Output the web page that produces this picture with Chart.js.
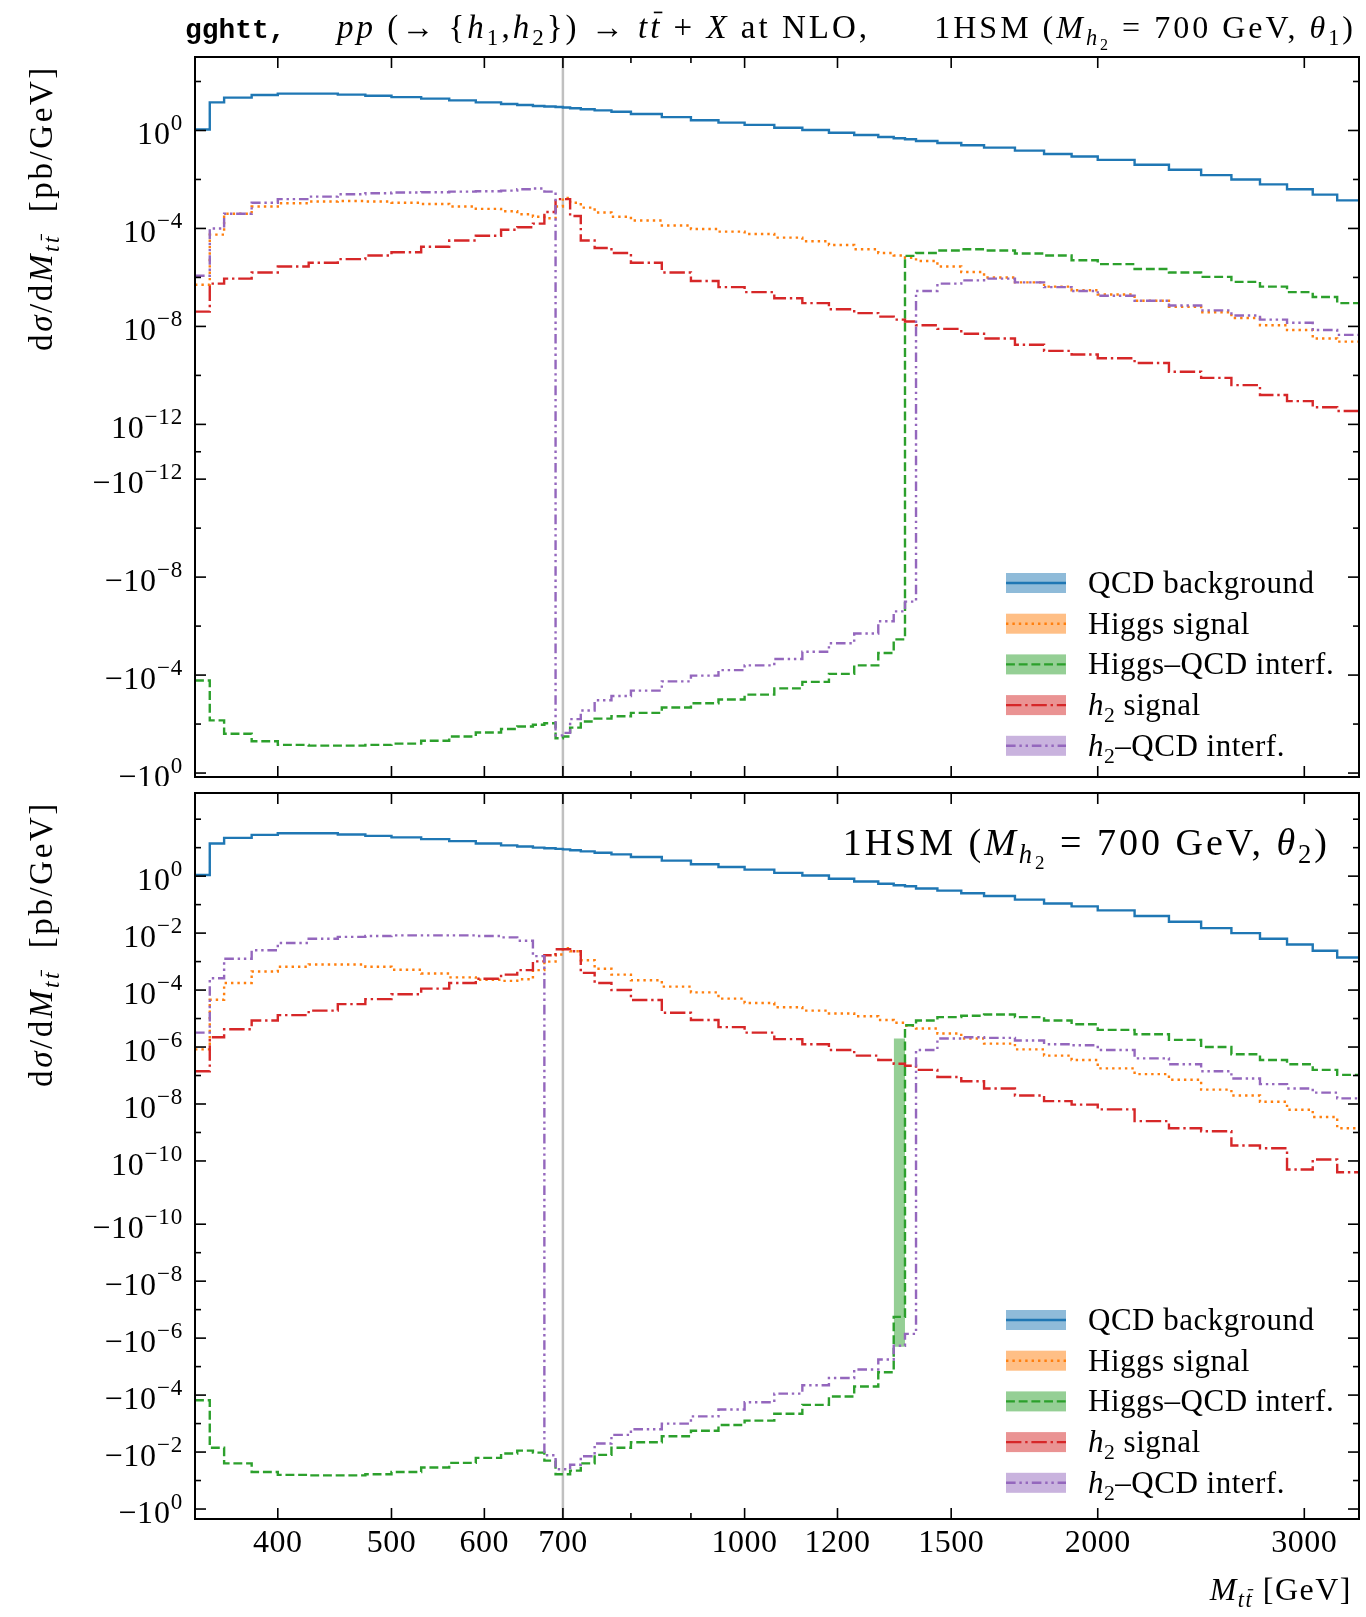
<!DOCTYPE html>
<html>
<head>
<meta charset="utf-8">
<script src="https://cdn.jsdelivr.net/npm/chart.js@4.4.0/dist/chart.umd.min.js"></script>
<style>
  html, body { margin: 0; padding: 0; background: #fff; }
  canvas { display: block; }
</style>
</head>
<body>
<canvas id="topPanel" width="1366" height="786"></canvas>
<canvas id="bottomPanel" width="1366" height="831"></canvas>
<script>
// bin edges of M_tt [GeV]
const binEdges = [340, 350, 360, 380, 400, 425, 450, 475, 500, 530, 560, 590, 620, 640, 660, 675, 690, 700, 710, 725,
  745, 770, 800, 850, 900, 950, 1000, 1060, 1120, 1180, 1240, 1300, 1340, 1370, 1400, 1460, 1530, 1600, 1700, 1800,
  1900, 2000, 2150, 2300, 2450, 2600, 2750, 2900, 3050, 3200, 3340];

// QCD background (same in both panels) [pb/GeV]
const qcdBackground = [1.1, 14, 22, 28, 32, 32, 29, 26, 23, 20,
  17, 14, 12, 11, 10, 9.5, 9.1, 8.7, 8.1, 7.4,
  6.6, 5.8, 4.7, 3.5, 2.6, 2.1, 1.7, 1.3, 1.05, 0.81,
  0.65, 0.54, 0.48, 0.44, 0.37, 0.31, 0.25, 0.2, 0.15, 0.11,
  0.087, 0.063, 0.04, 0.025, 0.015, 0.01, 0.0063, 0.004, 0.0024, 0.0014];

// top panel, theta_1
const higgsSignal1 = [5.0e-7, 5.6e-5, 4.0e-4, 7.9e-4, 1.07e-3, 1.26e-3, 1.32e-3, 1.26e-3, 1.12e-3, 1.0e-3,
  7.9e-4, 6.3e-4, 5.0e-4, 3.8e-4, 3.0e-4, 2.6e-4, 7.9e-4, 1.74e-3, 1.12e-3, 7.1e-4,
  4.5e-4, 3.0e-4, 2.1e-4, 1.32e-4, 9.5e-5, 7.4e-5, 5.9e-5, 4.2e-5, 3.0e-5, 2.1e-5,
  1.41e-5, 1.0e-5, 7.9e-6, 6.3e-6, 4.7e-6, 2.8e-6, 1.66e-6, 1.0e-6, 6.3e-7, 4.2e-7,
  3.0e-7, 2.0e-7, 1.12e-7, 6.3e-8, 3.8e-8, 2.2e-8, 1.12e-8, 7.1e-9, 3.2e-9, 2.4e-9];
const higgsInterf1 = [-1.66e-4, -7.1e-3, -0.025, -0.05, -0.071, -0.076, -0.076, -0.071, -0.063, -0.048,
  -0.032, -0.022, -0.016, -0.0126, -0.0107, -0.0093, -0.038, -0.032, -0.014, -7.9e-3,
  -6.0e-3, -4.8e-3, -3.5e-3, -2.1e-3, -1.41e-3, -1.0e-3, -6.3e-4, -3.5e-4, -1.9e-4, -8.9e-5,
  -4.0e-5, -1.26e-5, -3.5e-6, 7.6e-6, 1.0e-5, 1.26e-5, 1.41e-5, 1.26e-5, 9.5e-6, 7.9e-6,
  5.0e-6, 3.5e-6, 2.2e-6, 1.58e-6, 1.05e-6, 6.6e-7, 4.2e-7, 2.5e-7, 1.58e-7, 8.9e-8];
const h2Signal1 = [4.0e-8, 5.6e-7, 8.9e-7, 1.6e-6, 2.8e-6, 4.0e-6, 5.6e-6, 7.9e-6, 1.07e-5, 1.78e-5,
  3.2e-5, 5.0e-5, 8.9e-5, 1.12e-4, 1.58e-4, 4.7e-4, 1.58e-3, 1.58e-3, 3.2e-4, 3.2e-5,
  1.6e-5, 1.0e-5, 4.0e-6, 1.6e-6, 7.1e-7, 4.0e-7, 2.5e-7, 1.41e-7, 8.9e-8, 5.0e-8,
  3.5e-8, 2.5e-8, 1.9e-8, 1.58e-8, 1.12e-8, 7.9e-9, 5.0e-9, 3.2e-9, 1.78e-9, 1.0e-9,
  7.1e-10, 5.0e-10, 3.2e-10, 1.41e-10, 7.9e-11, 4.0e-11, 1.58e-11, 8.9e-12, 5.0e-12, 3.5e-12];
const h2Interf1 = [1.17e-6, 1.0e-4, 4.0e-4, 1.12e-3, 1.58e-3, 2.0e-3, 2.5e-3, 2.75e-3, 2.95e-3, 3.0e-3,
  3.2e-3, 3.3e-3, 3.5e-3, 4.0e-3, 4.3e-3, 3.2e-3, -0.029, -0.023, -6.3e-3, -2.8e-3,
  -1.07e-3, -7.1e-4, -4.3e-4, -1.8e-4, -1.05e-4, -6.3e-5, -4.0e-5, -2.2e-5, -1.12e-5, -5.0e-6,
  -2.0e-6, -6.3e-7, -2.5e-7, -1.0e-7, 2.8e-7, 5.6e-7, 7.6e-7, 8.9e-7, 6.3e-7, 4.0e-7,
  2.8e-7, 1.78e-7, 1.12e-7, 7.1e-8, 4.5e-8, 2.8e-8, 1.9e-8, 1.41e-8, 7.1e-9, 4.5e-9];

// bottom panel, theta_2
const higgsSignal2 = [8.3e-7, 4.6e-5, 1.78e-4, 4.5e-4, 6.6e-4, 7.9e-4, 7.9e-4, 6.6e-4, 5.2e-4, 3.8e-4,
  2.8e-4, 2.3e-4, 2.1e-4, 2.4e-4, 5.0e-4, 1.0e-3, 1.78e-3, 2.95e-3, 2.3e-3, 1.12e-3,
  5.6e-4, 3.5e-4, 2.2e-4, 1.32e-4, 8.3e-5, 5.0e-5, 3.5e-5, 2.5e-5, 1.9e-5, 1.51e-5,
  1.2e-5, 8.9e-6, 7.1e-6, 5.6e-6, 4.5e-6, 3.0e-6, 2.0e-6, 1.32e-6, 8.3e-7, 5.0e-7,
  3.5e-7, 1.78e-7, 1.12e-7, 7.1e-8, 3.2e-8, 2.0e-8, 1.2e-8, 6.3e-9, 3.5e-9, 1.41e-9];
const higgsInterf2 = [-1.51e-4, -7.1e-3, -0.025, -0.05, -0.063, -0.066, -0.066, -0.06, -0.05, -0.035,
  -0.024, -0.016, -0.0112, -8.9e-3, -0.0105, -0.02, -0.06, -0.06, -0.045, -0.025,
  -0.0126, -7.1e-3, -4.5e-3, -2.8e-3, -1.78e-3, -1.12e-3, -7.9e-4, -4.5e-4, -2.2e-4, -1.12e-4,
  -5.0e-5, -1.58e-5, -1.8e-7, 5.8e-6, 8.5e-6, 1.12e-5, 1.26e-5, 1.38e-5, 1.12e-5, 8.5e-6,
  6.3e-6, 4.0e-6, 2.8e-6, 1.78e-6, 1.0e-6, 5.6e-7, 3.5e-7, 2.5e-7, 1.58e-7, 1.05e-7];
const h2Signal2 = [1.41e-7, 2.2e-6, 4.2e-6, 8.5e-6, 1.32e-5, 1.9e-5, 3.2e-5, 4.8e-5, 7.1e-5, 1.12e-4,
  1.78e-4, 2.5e-4, 3.5e-4, 5.0e-4, 1.02e-3, 1.66e-3, 2.7e-3, 2.7e-3, 2.3e-3, 4.0e-4,
  1.78e-4, 1.0e-4, 4.5e-5, 1.6e-5, 8.9e-6, 5.0e-6, 3.2e-6, 1.9e-6, 1.26e-6, 7.9e-7,
  5.0e-7, 3.5e-7, 2.6e-7, 2.2e-7, 1.58e-7, 8.9e-8, 6.3e-8, 3.5e-8, 2.0e-8, 1.26e-8,
  9.5e-9, 6.5e-9, 2.5e-9, 1.41e-9, 1.1e-9, 3.5e-10, 2.8e-10, 5.0e-11, 1.12e-10, 4.0e-11];
const h2Interf2 = [3.2e-6, 2.6e-4, 1.26e-3, 2.5e-3, 4.5e-3, 6.3e-3, 7.4e-3, 7.9e-3, 8.3e-3, 8.3e-3,
  8.3e-3, 7.9e-3, 7.1e-3, 5.4e-3, 1.55e-3, -0.013, -0.04, -0.04, -0.028, -0.014,
  -5.0e-3, -2.5e-3, -1.58e-3, -1.0e-3, -5.6e-4, -3.2e-4, -1.78e-4, -8.9e-5, -4.5e-5, -2.5e-5,
  -1.26e-5, -5.6e-6, -1.86e-6, -7.1e-7, 7.9e-7, 2.0e-6, 2.2e-6, 2.1e-6, 1.7e-6, 1.26e-6,
  1.15e-6, 7.9e-7, 4.0e-7, 2.5e-7, 1.41e-7, 7.9e-8, 5.0e-8, 3.5e-8, 2.5e-8, 1.58e-8];

// uncertainty band of the Higgs-QCD interference in the bin where it changes sign (bottom panel)
const bandEdges2 = [1340, 1370];
const higgsInterfBand2 = [-2e-6, 2e-6];

// axis ticks
const xMajorTicks = [400, 500, 600, 700, 1000, 1200, 1500, 2000, 3000];
const xMinorTicks = [800, 900];
const yMajor1 = [1, 1e-4, 1e-8, 1e-12, -1e-12, -1e-8, -1e-4, -1];
const yMinor1 = [100, 1e-2, 1e-6, 1e-10, 0, -1e-10, -1e-6, -1e-2];
const yMajor2 = [1, 1e-2, 1e-4, 1e-6, 1e-8, 1e-10, -1e-10, -1e-8, -1e-6, -1e-4, -1e-2, -1];
const yMinor2 = [100, 10, 1e-1, 1e-3, 1e-5, 1e-7, 1e-9, -1e-9, -1e-7, -1e-5, -1e-3, -1e-1];

const COLORS = { blue: '#1f77b4', orange: '#ff7f0e', green: '#2ca02c', red: '#d62728', purple: '#9467bd' };
const BANDS = { blue: 'rgba(31,119,180,0.5)', orange: 'rgba(255,127,14,0.5)', green: 'rgba(44,160,44,0.5)',
  red: 'rgba(214,39,40,0.5)', purple: 'rgba(148,103,189,0.5)' };
const LW = 2.4;
const DASH = {
  solid: [],
  dotted: [2.4, 4],
  dashed: [8.9, 3.8],
  dashdot: [15.4, 3.8, 2.4, 3.8],
  dashdotdot: [9.6, 3.8, 2.4, 3.8, 2.4, 3.8]
};
const FS = 31;
const SERIF = '"Liberation Serif", "Times New Roman", serif';

// symmetric log scale (log for |v| > linthresh, linear inside)
class SymLogScale extends Chart.LinearScale {
  determineDataLimits() {
    this.min = this.options.min;
    this.max = this.options.max;
  }
  buildTicks() {
    return this.options.tickValues.map(v => ({ value: v }));
  }
  transform(v) {
    const c = this.options.linthresh, s = this.options.linscale, a = Math.abs(v);
    const t = a <= c ? s * a / c : s + Math.log10(a / c);
    return v < 0 ? -t : t;
  }
  getPixelForValue(v) {
    const t0 = this.transform(this.min), t1 = this.transform(this.max);
    return this.getPixelForDecimal((this.transform(v) - t0) / (t1 - t0));
  }
  getValueForPixel(p) {
    const t0 = this.transform(this.min), t1 = this.transform(this.max);
    const t = t0 + this.getDecimalForPixel(p) * (t1 - t0);
    const c = this.options.linthresh, s = this.options.linscale, a = Math.abs(t);
    const v = a <= s ? a * c / s : c * Math.pow(10, a - s);
    return t < 0 ? -v : v;
  }
}
SymLogScale.id = 'symlog';
SymLogScale.defaults = {};
Chart.register(SymLogScale);

// text with italic / sub / superscript runs
const STY = {
  rm: { scale: 1, dy: 0 },
  it: { scale: 1, dy: 0, italic: true },
  sub: { scale: 0.7, dy: 0.22 },
  subit: { scale: 0.7, dy: 0.22, italic: true },
  subsub: { scale: 0.5, dy: 0.38 },
  sup: { scale: 0.72, dy: -0.45 },
  tt: { scale: 0.9, dy: 0, mono: true, bold: true }
};
function drawRich(ctx, parts, x, y, size, align, spacing) {
  const ls = (spacing || 0) + 'px';
  let total = 0;
  const runs = parts.map(([text, style, bar]) => {
    const s = STY[style];
    const fs = size * s.scale;
    const fam = s.mono ? '"Liberation Mono", monospace' : SERIF;
    const font = (s.italic ? 'italic ' : '') + (s.bold ? 'bold ' : '') + fs + 'px ' + fam;
    ctx.font = font;
    ctx.letterSpacing = s.mono ? '0px' : ls;
    const w = ctx.measureText(text).width;
    total += w;
    return { text, font, fs, dy: s.dy * size, w, bar, ls: s.mono ? '0px' : ls };
  });
  let cx = align === 'right' ? x - total : align === 'center' ? x - total / 2 : x;
  ctx.textAlign = 'left';
  ctx.textBaseline = 'alphabetic';
  runs.forEach(r => {
    ctx.font = r.font;
    ctx.letterSpacing = r.ls;
    ctx.fillText(r.text, cx, y + r.dy);
    if (r.bar) {
      ctx.fillRect(cx + r.w * 0.3, y + r.dy - r.fs * 0.8, r.w * 0.7, Math.max(1.2, r.fs * 0.05));
    }
    cx += r.w;
  });
  ctx.letterSpacing = '0px';
}

function powLabel(v) {
  const e = Math.round(Math.log10(Math.abs(v)));
  return [[(v < 0 ? '\u2212' : '') + '10', 'rm'], [(e < 0 ? '\u2212' : '') + Math.abs(e), 'sup']];
}

function histPoints(edges, vals) {
  const pts = [];
  vals.forEach((v, i) => {
    pts.push({ x: edges[i], y: v }, { x: edges[i + 1], y: v });
  });
  return pts;
}

function histLine(vals, color, dash, order) {
  return {
    data: histPoints(binEdges, vals),
    borderColor: color,
    borderWidth: LW,
    borderDash: dash,
    borderCapStyle: 'butt',
    borderJoinStyle: 'miter',
    pointRadius: 0,
    tension: 0,
    fill: false,
    order: order
  };
}

const legendItems = [
  { parts: [['QCD background', 'rm']], color: COLORS.blue, band: BANDS.blue, dash: DASH.solid },
  { parts: [['Higgs signal', 'rm']], color: COLORS.orange, band: BANDS.orange, dash: DASH.dotted },
  { parts: [['Higgs\u2013QCD interf.', 'rm']], color: COLORS.green, band: BANDS.green, dash: DASH.dashed },
  { parts: [['h', 'it'], ['2', 'sub'], [' signal', 'rm']], color: COLORS.red, band: BANDS.red, dash: DASH.dashdot },
  { parts: [['h', 'it'], ['2', 'sub'], ['\u2013QCD interf.', 'rm']], color: COLORS.purple, band: BANDS.purple, dash: DASH.dashdotdot }
];

const yTitleParts = [['d', 'rm'], ['\u03c3', 'it'], ['/d', 'rm'], ['M', 'it'], ['t', 'subit'], ['t', 'subit', true], ['  [pb/GeV]', 'rm']];

function modelParts(theta) {
  return [['1HSM (', 'rm'], ['M', 'it'], ['h', 'subit'], ['2', 'subsub'], [' = 700 GeV, ', 'rm'],
    ['\u03b8', 'it'], [theta, 'sub'], [')', 'rm']];
}

function decor(cfg) {
  return {
    id: 'decor',
    afterDraw(chart) {
      const { ctx, chartArea: a } = chart;
      const xs = chart.scales.x, ys = chart.scales.y;
      const tick = (x1, y1, x2, y2) => { ctx.beginPath(); ctx.moveTo(x1, y1); ctx.lineTo(x2, y2); ctx.stroke(); };
      ctx.save();
      ctx.fillStyle = '#000';
      ctx.strokeStyle = '#000';
      ctx.lineWidth = 1.6;
      ctx.setLineDash([]);

      xMajorTicks.forEach(v => {
        const p = xs.getPixelForValue(v);
        tick(p, a.bottom, p, a.bottom - 11);
        tick(p, a.top, p, a.top + 11);
        if (cfg.xLabels) drawRich(ctx, [[String(v), 'rm']], p, a.bottom + 33, 32, 'center', 0.5);
      });
      xMinorTicks.forEach(v => {
        const p = xs.getPixelForValue(v);
        tick(p, a.bottom, p, a.bottom - 6);
        tick(p, a.top, p, a.top + 6);
      });
      cfg.yMajor.forEach(v => {
        const p = ys.getPixelForValue(v);
        tick(a.left, p, a.left + 11, p);
        tick(a.right, p, a.right - 11, p);
        drawRich(ctx, powLabel(v), a.left - 12, p + 14, 32, 'right', 0.8);
      });
      cfg.yMinor.forEach(v => {
        const p = ys.getPixelForValue(v);
        tick(a.left, p, a.left + 6, p);
        tick(a.right, p, a.right - 6, p);
      });

      ctx.lineWidth = 2;
      ctx.strokeRect(a.left, a.top, a.right - a.left, a.bottom - a.top);

      ctx.save();
      ctx.translate(52, cfg.yTitleY);
      ctx.rotate(-Math.PI / 2);
      drawRich(ctx, yTitleParts, 0, 0, 33, 'center', 2.6);
      ctx.restore();

      cfg.texts.forEach(t => drawRich(ctx, t.parts, t.x, t.y, t.size, t.align, t.spacing));

      legendItems.forEach((it, i) => {
        const cy = cfg.legendY + i * 40.7;
        ctx.fillStyle = it.band;
        ctx.fillRect(1006, cy - 10, 60, 20);
        ctx.strokeStyle = it.color;
        ctx.lineWidth = LW;
        ctx.setLineDash(it.dash);
        tick(1006, cy, 1066, cy);
        ctx.setLineDash([]);
        ctx.fillStyle = '#000';
        drawRich(ctx, it.parts, 1088, cy + 10, FS, 'left', 0.5);
      });
      ctx.restore();
    }
  };
}

function panel(canvasId, cfg) {
  const datasets = [
    histLine(cfg.h2Interf, COLORS.purple, DASH.dashdotdot, 1),
    histLine(cfg.h2Signal, COLORS.red, DASH.dashdot, 2),
    histLine(cfg.higgsInterf, COLORS.green, DASH.dashed, 3),
    histLine(cfg.higgsSignal, COLORS.orange, DASH.dotted, 4),
    histLine(qcdBackground, COLORS.blue, DASH.solid, 5),
    {
      data: [{ x: 700, y: cfg.yMin }, { x: 700, y: cfg.yMax }],
      borderColor: 'rgba(150,150,150,0.6)', borderWidth: 2.5, pointRadius: 0, fill: false, order: 8
    }
  ];
  if (cfg.band) {
    datasets.push({
      data: [{ x: cfg.band.edges[0], y: cfg.band.range[1] }, { x: cfg.band.edges[1], y: cfg.band.range[1] }],
      borderWidth: 0, pointRadius: 0, backgroundColor: BANDS.green,
      fill: { value: cfg.band.range[0] }, order: 6
    });
  }
  return new Chart(document.getElementById(canvasId), {
    type: 'line',
    data: { datasets },
    options: {
      responsive: false,
      animation: false,
      devicePixelRatio: 1,
      layout: { padding: cfg.padding },
      plugins: { legend: { display: false }, tooltip: { enabled: false } },
      scales: {
        x: {
          type: 'logarithmic', min: 340, max: 3340,
          ticks: { display: false }, grid: { display: false }, border: { display: false }
        },
        y: {
          type: 'symlog', min: cfg.yMin, max: cfg.yMax,
          linthresh: cfg.linthresh, linscale: cfg.linscale,
          tickValues: cfg.yMajor.concat(cfg.yMinor),
          ticks: { display: false, callback: () => '' }, grid: { display: false }, border: { display: false }
        }
      }
    },
    plugins: [decor(cfg)]
  });
}

panel('topPanel', {
  higgsSignal: higgsSignal1, higgsInterf: higgsInterf1, h2Signal: h2Signal1, h2Interf: h2Interf1,
  yMin: -1.45, yMax: 1000, linthresh: 1e-13, linscale: 0.118,
  yMajor: yMajor1, yMinor: yMinor1,
  padding: { left: 187, right: 7, top: 57, bottom: 1 },
  xLabels: false,
  yTitleY: 208,
  legendY: 583,
  texts: [
    { parts: [['gghtt,', 'tt']], x: 185, y: 38, size: FS, align: 'left', spacing: 0 },
    { parts: [['pp', 'it'], [' (\u2192 {', 'rm'], ['h', 'it'], ['1', 'sub'], [',', 'rm'], ['h', 'it'], ['2', 'sub'],
      ['}) \u2192 ', 'rm'], ['t', 'it'], ['t', 'it', true], [' + ', 'rm'], ['X', 'it'], [' at NLO,', 'rm']],
      x: 337, y: 38, size: 33, align: 'left', spacing: 3 },
    { parts: modelParts('1'), x: 1356, y: 38, size: 32, align: 'right', spacing: 3 }
  ]
});

panel('bottomPanel', {
  higgsSignal: higgsSignal2, higgsInterf: higgsInterf2, h2Signal: h2Signal2, h2Interf: h2Interf2,
  yMin: -2.24, yMax: 830, linthresh: 1e-11, linscale: 0.11,
  yMajor: yMajor2, yMinor: yMinor2,
  padding: { left: 187, right: 7, top: 7, bottom: 90 },
  xLabels: true,
  yTitleY: 158,
  legendY: 534,
  band: { edges: bandEdges2, range: higgsInterfBand2 },
  texts: [
    { parts: modelParts('2'), x: 1330, y: 69, size: 38, align: 'right', spacing: 3 },
    { parts: [['M', 'it'], ['t', 'subit'], ['t', 'subit', true], [' [GeV]', 'rm']], x: 1352, y: 814, size: 32, align: 'right', spacing: 1.5 }
  ]
});
</script>
</body>
</html>
